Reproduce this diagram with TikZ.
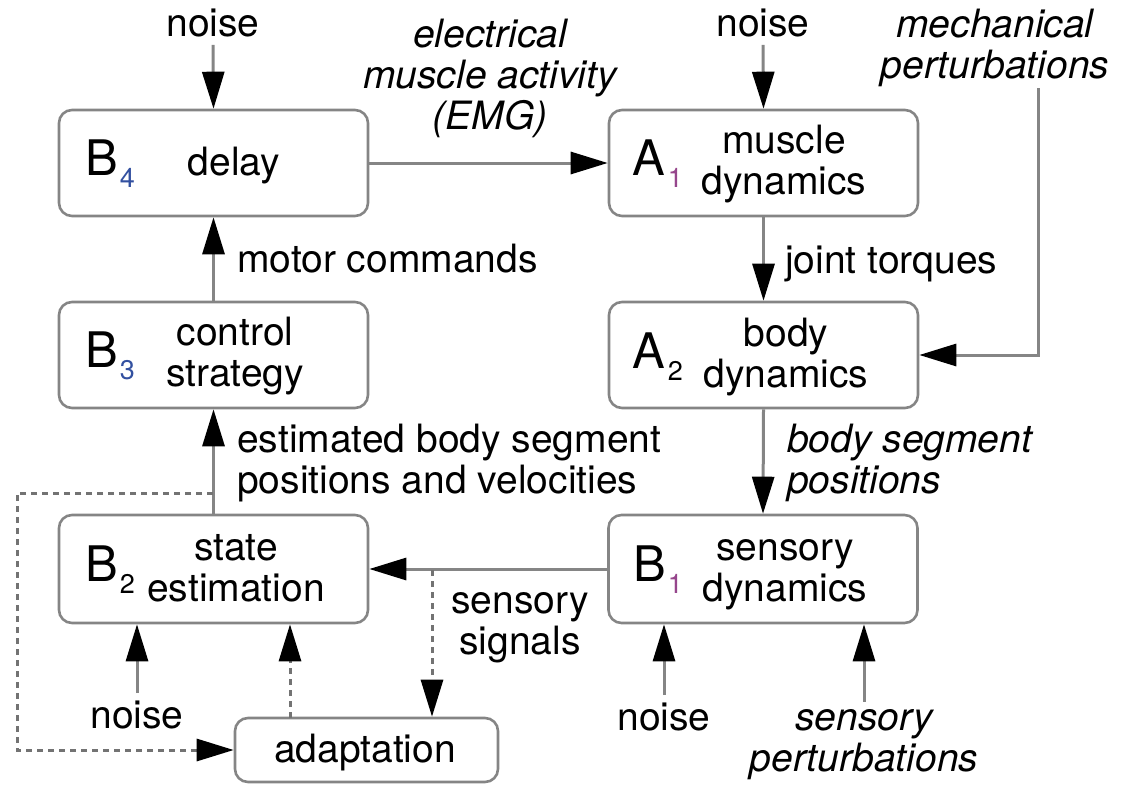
\documentclass[tikz,border=0pt]{standalone}
\usepackage{fontspec}
\setmainfont{TeX Gyre Heros}
\usetikzlibrary{arrows.meta}
\definecolor{edge}{gray}{0.52}
\definecolor{dedge}{gray}{0.45}
\definecolor{subblue}{RGB}{50,80,160}
\definecolor{subpurple}{RGB}{150,70,140}
% block letter with its index
\newcommand{\blk}[3]{B\kern2pt\raisebox{-12pt}{\fontsize{27}{27}\selectfont\color{#3}#2}}
\newcommand{\blkA}[2]{A\kern3pt\raisebox{-12pt}{\fontsize{27}{27}\selectfont\color{#2}#1}}

\begin{document}
\begin{tikzpicture}[x=1pt,y=-1pt,
  box/.style={draw=edge, line width=2.6pt, rounded corners=13pt,
    minimum width=309pt, minimum height=106pt, inner sep=0pt},
  lbl/.style={font=\fontsize{39}{41}\selectfont, inner sep=0pt, anchor=base, align=center},
  lbll/.style={lbl, anchor=base west, align=left},
  tag/.style={font=\fontsize{49}{49}\selectfont, inner sep=0pt, anchor=base west},
  flow/.style={draw=edge, line width=3pt, -{Triangle[length=37pt,width=22pt,color=black]}},
  dflow/.style={flow, draw=dedge, dash pattern=on 6pt off 5pt},
  gap/.style={shorten <=7pt}
]
\useasboundingbox (0,0) rectangle (1123,784);

% blocks
\node[box] (b4) at (213.5,163) {};
\node[box] (a1) at (763.5,163) {};
\node[box] (b3) at (213.5,355) {};
\node[box] (a2) at (763.5,355) {};
\node[box, minimum height=108pt] (b2) at (213.5,569) {};
\node[box, minimum height=108pt] (b1) at (763,569) {};
\node[box, minimum width=263pt, minimum height=64pt] (ad) at (366.5,750) {};

% block tags
\node[tag] (b4tag) at (85,175) {\blk{B}{4}{subblue}};
\node[tag] (a1tag) at (632,175) {\blkA{1}{subpurple}};
\node[tag] (b3tag) at (85,367) {\blk{B}{3}{subblue}};
\node[tag] (a2tag) at (632,368) {\blkA{2}{black}};
\node[tag] (b2tag) at (85,581) {\blk{B}{2}{black}};
\node[tag] (b1tag) at (633,581) {\blk{B}{1}{subpurple}};

% block texts (base = baseline of the last line)
\node[lbl] (b4txt) at (234,175) {delay};
\node[lbl] (a1txt) at (784,194) {muscle\\dynamics};
\node[lbl] (b3txt) at (235,386) {control\\strategy};
\node[lbl] (a2txt) at (786,387) {body\\dynamics};
\node[lbl] (b2txt) at (236,601) {state\\estimation};
\node[lbl] (b1txt) at (785,601) {sensory\\dynamics};
\node[lbl] (adtxt) at (365,762) {adaptation};

% signal labels
\node[lbl] (noise1) at (213,37) {noise};
\node[lbl] (noise2) at (763,37) {noise};
\node[lbl, font=\fontsize{39}{41}\selectfont\itshape] (emg) at (490,129) {electrical\\muscle activity\\(EMG)};
\node[lbl, font=\fontsize{39}{41}\selectfont\itshape] (mech) at (995,78) {mechanical\\perturbations};
\node[lbll] (motor) at (237,272) {motor commands};
\node[lbll] (torq) at (785,273) {joint torques};
\node[lbll] (est) at (237,493) {estimated body segment\\positions and velocities};
\node[lbll, font=\fontsize{39}{41}\selectfont\itshape] (pos) at (787,493) {body segment\\positions};
\node[lbl] (sig) at (520,654) {sensory\\signals};
\node[lbl] (noise3) at (137,728) {noise};
\node[lbl] (noise4) at (664,730) {noise};
\node[lbl, font=\fontsize{39}{41}\selectfont\itshape] (spert) at (864,771) {sensory\\perturbations};

% free ends of connectors
\coordinate (mtop) at (1038,88);
\coordinate (tap) at (432,570);
\coordinate (adup) at (290,718);
\coordinate (est0) at (213,493);

% solid connectors
\draw[flow, gap] (noise1.south) -- (b4.north);
\draw[flow, gap] (noise2.south) -- (a1.north);
\draw[flow] (b4.east) -- (a1.west);
\draw[flow] (mtop) |- (a2.east);
\draw[flow] (a1.south) -- (a2.north);
\draw[flow] (b3.north) -- (b4.south);
\draw[flow] (a2.south) -- (b1.north);
\draw[flow] (b2.north) -- (b3.south);
\draw[flow] (b1.west) -- (b2.east);
\draw[flow, gap] (noise3.north) -- (noise3.north |- b2.south);
\draw[flow, gap] (noise4.north) -- (noise4.north |- b1.south);
\draw[flow, gap] (spert.north) -- (spert.north |- b1.south);

% dashed connectors
\draw[dflow] (tap) -- (tap |- ad.north);
\draw[dflow] (adup) -- (adup |- b2.south);
\draw[dflow] (est0) -- ++(-196,0) |- (ad.west);
\end{tikzpicture}
\end{document}
